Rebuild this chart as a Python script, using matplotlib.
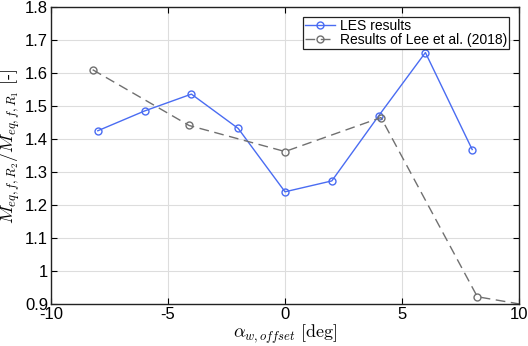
import matplotlib
matplotlib.use("Agg")
import matplotlib.pyplot as plt

# LES results
les_x = [-8, -6, -4, -2, 0, 2, 4, 6, 8]
les_y = [1.425, 1.485, 1.536, 1.432, 1.240, 1.273, 1.470, 1.662, 1.368]

# Lee et al. (2018); last point lies beyond the axis limit
lee_x = [-8.22, -4.1, 0.0, 4.1, 8.22, 12.0]
lee_y = [1.610, 1.441, 1.362, 1.465, 0.922, 0.876]

xticks = [-10, -5, 0, 5, 10]
yticks = [0.9, 1.0, 1.1, 1.2, 1.3, 1.4, 1.5, 1.6, 1.7, 1.8]
ytick_labels = ['0.9', '1', '1.1', '1.2', '1.3', '1.4', '1.5', '1.6', '1.7', '1.8']

plt.rcParams['font.family'] = ['Liberation Sans', 'DejaVu Sans']
plt.rcParams['mathtext.fontset'] = 'cm'

fig = plt.figure(figsize=(5.28, 3.46), dpi=100)
ax = fig.add_axes([51 / 528, 42 / 346, 468 / 528, 297 / 346])

ax.plot(les_x, les_y, '-o', color='#4a6cf2', lw=1.0, ms=5, mfc='none', mew=1.0,
        label='LES results')
ax.plot(lee_x, lee_y, '--o', color='#707070', lw=1.0, ms=5, mfc='none', mew=1.0,
        dashes=(7, 4), label='Results of Lee et al. (2018)')

ax.set_xlim(-10, 10)
ax.set_ylim(0.9, 1.8)
ax.set_xticks(xticks)
ax.set_xticklabels([str(t) for t in xticks])
ax.set_yticks(yticks)
ax.set_yticklabels(ytick_labels)
ax.tick_params(direction='in', top=True, right=True, labelsize=12, length=4,
               width=0.8, pad=2)
ax.grid(True, color='#dddddd', lw=0.8)
ax.set_axisbelow(True)
for s in ax.spines.values():
    s.set_linewidth(1.0)
    s.set_color('#222222')

ax.set_xlabel(r'$\alpha_{w,offset}\ \mathrm{[deg]}$', fontsize=13)
ax.set_ylabel(r'$M_{eq,f,R_2}/M_{eq,f,R_1}\ \mathrm{[\text{-}]}$', fontsize=13)
ax.xaxis.set_label_coords(0.5, -0.064)
ax.yaxis.set_label_coords(-0.062, 0.53)

leg = ax.legend(loc='upper right', fontsize=10, fancybox=False, framealpha=1,
                edgecolor='#222222', borderpad=0.15, labelspacing=0.0,
                handlelength=2.2, handletextpad=0.3, borderaxespad=0.72)
leg.get_frame().set_linewidth(0.9)

fig.savefig('out.png', dpi=100)
